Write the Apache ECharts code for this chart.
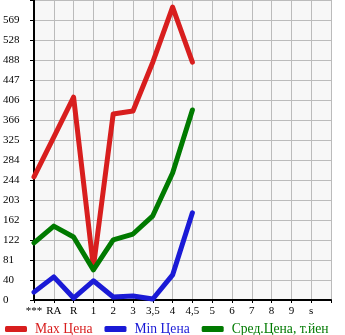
<!DOCTYPE html>
<html><head><meta charset="utf-8">
<script src="https://cdn.jsdelivr.net/npm/echarts@6/dist/echarts.min.js"></script>
<style>html,body{margin:0;padding:0;background:#fff}#c{width:345px;height:335px}</style>
</head><body><div id="c"></div>
<script>
const categories = ['***','RA','R','1','2','3','3,5','4','4,5','5','6','7','8','9','s',''];
const maxPrice = [250, 331, 412, 67, 378, 384, 483, 595, 483, null, null, null, null, null, null, null];
const minPrice = [16, 47, 4, 39, 6, 8, 2, 51, 177, null, null, null, null, null, null, null];
const avgPrice = [116, 150, 128, 61, 122, 134, 171, 258, 386, null, null, null, null, null, null, null];
const yTickLabels = ['0','40','81','122','162','203','244','284','325','366','406','447','488','528','569',''];
const seriesNames = ['Max Цена','Min Цена','Сред.Цена, т.йен'];
const colors = ['#d81e1e','#1a1ad6','#007a00'];

const step = 40.625;
const chart = echarts.init(document.getElementById('c'));
const font = '"Liberation Serif", "DejaVu Serif", serif';
chart.setOption({
  animation: false,
  grid: {left: 31, right: 14, top: 0, bottom: 35, show: true, backgroundColor: '#f7f7f7', borderWidth: 0},
  xAxis: {
    type: 'category', data: categories, boundaryGap: false,
    axisLine: {lineStyle: {color: '#000', width: 2}},
    axisTick: {show: true, length: 3, lineStyle: {color: '#000'}, interval: 0},
    axisLabel: {interval: 0, color: '#000', fontFamily: font, fontSize: 11, margin: 6},
    splitLine: {show: true, interval: 0, lineStyle: {color: '#bbb', width: 1}}
  },
  yAxis: {
    type: 'value', min: 0, max: step * 15, interval: step,
    axisLine: {show: true, lineStyle: {color: '#000', width: 2}},
    axisTick: {show: true, length: 4, lineStyle: {color: '#000'}},
    axisLabel: {color: '#000', fontFamily: font, fontSize: 11, align: 'left', margin: 31,
      padding: [0, 0, 7, 0],
      formatter: v => yTickLabels[Math.round(v / step)] || ''},
    splitLine: {show: true, lineStyle: {color: '#bbb', width: 1}}
  },
  legend: {
    left: 0, top: 317, itemWidth: 22, itemHeight: 6, itemGap: 12,
    icon: 'roundRect',
    data: seriesNames.map((n, i) => ({name: n, textStyle: {color: colors[i]}})),
    textStyle: {fontFamily: font, fontSize: 13.6, padding: [0, 0, 0, 3]}
  },
  series: [maxPrice, minPrice, avgPrice].map((d, i) => ({
    name: seriesNames[i], type: 'line', data: d, showSymbol: false, symbol: 'none',
    color: colors[i],
    lineStyle: {width: 5, color: colors[i], cap: 'round', join: 'round'}
  }))
});
</script></body></html>
